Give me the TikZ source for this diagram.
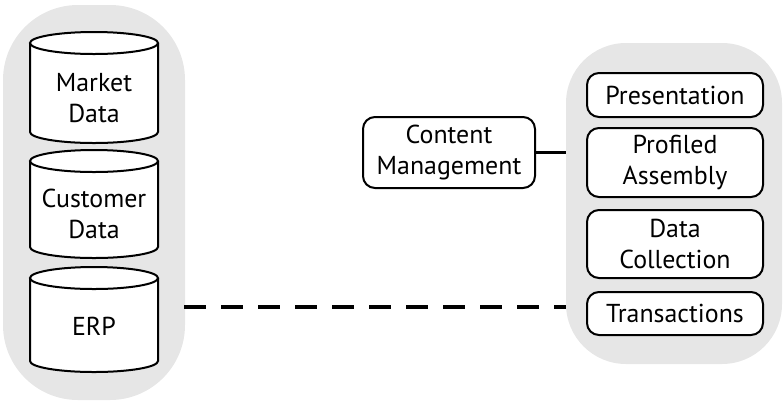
\documentclass[tikz,border=0pt]{standalone}
\usepackage{fontspec}
\setmainfont{PT Sans}
\definecolor{pill}{RGB}{230,230,230}
\tikzset{
  x=1bp, y=1bp,
  cyl/.style={draw=black, line width=2bp, fill=white},
  rbox/.style={draw=black, line width=2bp, fill=white, rounded corners=12bp, align=center, inner sep=0pt},
  lbl/.style={align=center, font=\fontsize{26}{31}\selectfont},
}
\begin{document}
\begin{tikzpicture}
\useasboundingbox (0,0) rectangle (783,-404);
% pills
\fill[pill] (3,-5) [rounded corners=75bp] rectangle (185,-400);
\node[inner sep=0pt, minimum width=182bp, minimum height=395bp] (left) at (94,-202.5) {};
\fill[pill] (566,-43) [rounded corners=60bp] rectangle (782,-364);
\node[inner sep=0pt, minimum width=216bp, minimum height=321bp] (right) at (674,-203.5) {};
% cylinders
\foreach \t/\b in {43/132, 161/247, 278/361}{
  \draw[cyl] (30,-\t) -- (30,-\b) arc (180:360:64 and 11) -- (158,-\t);
  \draw[cyl] (94,-\t) ellipse (64 and 11);
}
\node[lbl] (market) at (94,-98) {Market\\Data};
\node[lbl] (customer) at (94,-214) {Customer\\Data};
\node[lbl] (erp) at (94,-326) {ERP};
% right boxes
\node[rbox, lbl, minimum width=176bp, minimum height=44bp] (pres) at (675,-95) {Presentation};
\node[rbox, lbl, minimum width=176bp, minimum height=69bp] (prof) at (675,-162.5) {Profiled\\Assembly};
\node[rbox, lbl, minimum width=176bp, minimum height=68bp] (coll) at (675,-244) {Data\\Collection};
\node[rbox, lbl, minimum width=176bp, minimum height=43bp] (trans) at (675,-313.5) {Transactions};
% content management
\node[rbox, lbl, minimum width=172bp, minimum height=71bp] (cm) at (449,-152.5) {Content\\Management};
\draw[line width=2.5bp] (cm.east) -- (right.west |- cm.east);
\draw[line width=4bp, dash pattern=on 22bp off 15bp] ([xshift=-1bp]left.east |- 0,-307) -- (right.west |- 0,-307);
\end{tikzpicture}
\end{document}
